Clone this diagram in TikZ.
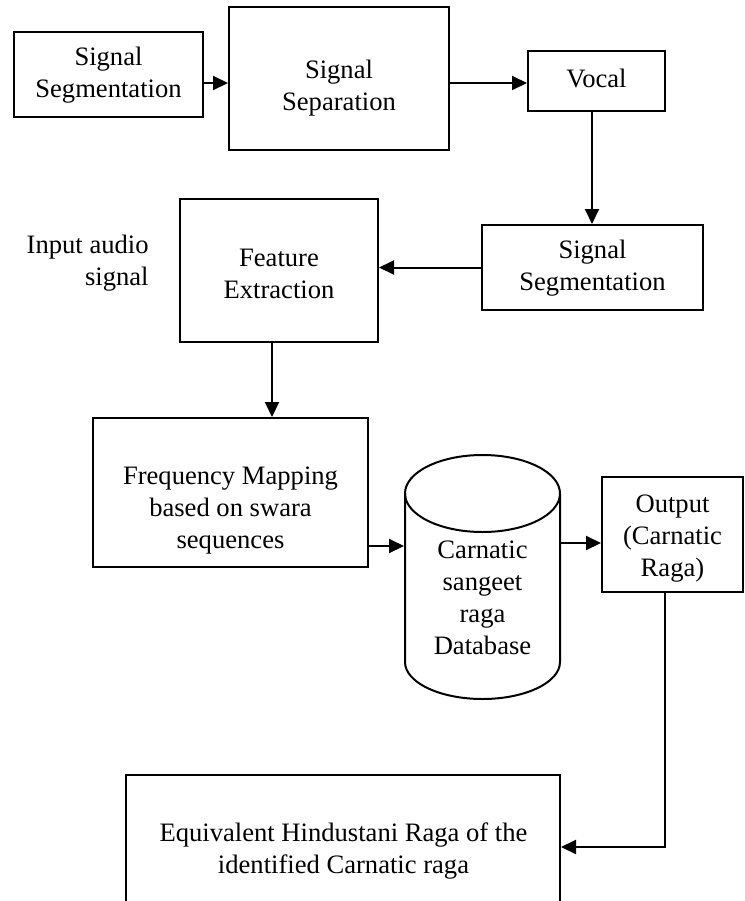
\documentclass[tikz,border=0pt]{standalone}
\usepackage{fontspec}
\setmainfont{Liberation Serif}
\usetikzlibrary{arrows.meta}
\begin{document}
\begin{tikzpicture}[x=0.5pt,y=-0.5pt,
  box/.style={draw, line width=1pt, inner sep=0pt},
  txt/.style={font=\fontsize{13.3}{16}\selectfont, align=center, inner sep=0pt},
  arr/.style={line width=1pt, -{Triangle[length=7.5pt,width=7pt]}},
  conn/.style={line width=1pt}]
\useasboundingbox (0,0) rectangle (745,901);
\clip (0,0) rectangle (745,901);
\fill[white] (0,0) rectangle (745,901);

% boxes
\node[box, minimum width=94.5pt, minimum height=42.5pt] (b1) at (108.5,74.5) {};
\node[box, minimum width=110pt, minimum height=71.5pt] (b2) at (339,78.5) {};
\node[box, minimum width=68.5pt, minimum height=30pt] (vocal) at (596.5,81) {};
\node[box, minimum width=110.5pt, minimum height=42.5pt] (ss2) at (592.5,267.5) {};
\node[box, minimum width=99pt, minimum height=71.5pt] (fe) at (279,270.5) {};
\node[box, minimum width=137.5pt, minimum height=74.5pt] (fm) at (230.5,492.5) {};
\node[box, minimum width=70.5pt, minimum height=57.5pt] (out) at (672.5,534.5) {};
\node[box, minimum width=217pt, minimum height=75pt] (eq) at (343,850) {};
\node[inner sep=0pt, outer sep=0.5pt, minimum width=77.5pt, minimum height=122pt] (cyl) at (482.5,577) {};

% cylinder
\draw[conn] (482.5,493.5) ellipse [x radius=77.5, y radius=38.5];
\draw[conn] (405,493.5) -- (405,662) arc[start angle=180, end angle=0, x radius=77.5, y radius=37] -- (560,493.5);

% texts
\node[txt] (t1) at (108.5,75) {Signal\\Segmentation};
\node[txt] (t2) at (339,88) {Signal\\Separation};
\node[txt] (t3) at (596.5,78) {Vocal};
\node[txt] (t4) at (592.5,268) {Signal\\Segmentation};
\node[txt] (t5) at (279,274) {Feature\\Extraction};
\node[txt, align=right, anchor=east] (t6) at (149,263) {Input audio\\signal};
\node[txt] (t7) at (230.5,511) {Frequency Mapping\\based on swara\\sequences};
\node[txt] (t8) at (482.5,598) {Carnatic\\sangeet\\raga\\Database};
\node[txt] (t9) at (672.5,539) {Output\\(Carnatic\\Raga)};
\node[txt] (t10) at (343.5,851) {Equivalent Hindustani Raga of the\\identified Carnatic raga};

% connectors
\coordinate (y83) at (0,83);
\coordinate (x592) at (592,0);
\coordinate (x272) at (272,0);
\coordinate (y546) at (0,546);
\coordinate (y543) at (0,543);
\coordinate (x665) at (665,0);
\coordinate (y847) at (0,847);
\draw[arr] (b1.east |- y83) -- (b2.west |- y83);
\draw[arr] (b2.east |- y83) -- (vocal.west |- y83);
\draw[arr] (vocal.south -| x592) -- (ss2.north -| x592);
\draw[arr] (ss2.west) -- (ss2.west -| fe.east);
\draw[arr] (fe.south -| x272) -- (fm.north -| x272);
\draw[arr] (fm.east |- y546) -- (cyl.west |- y546);
\draw[arr] (cyl.east |- y543) -- (out.west |- y543);
\draw[arr] (out.south -| x665) -- (x665 |- y847) -- (eq.east |- y847);
\end{tikzpicture}
\end{document}
